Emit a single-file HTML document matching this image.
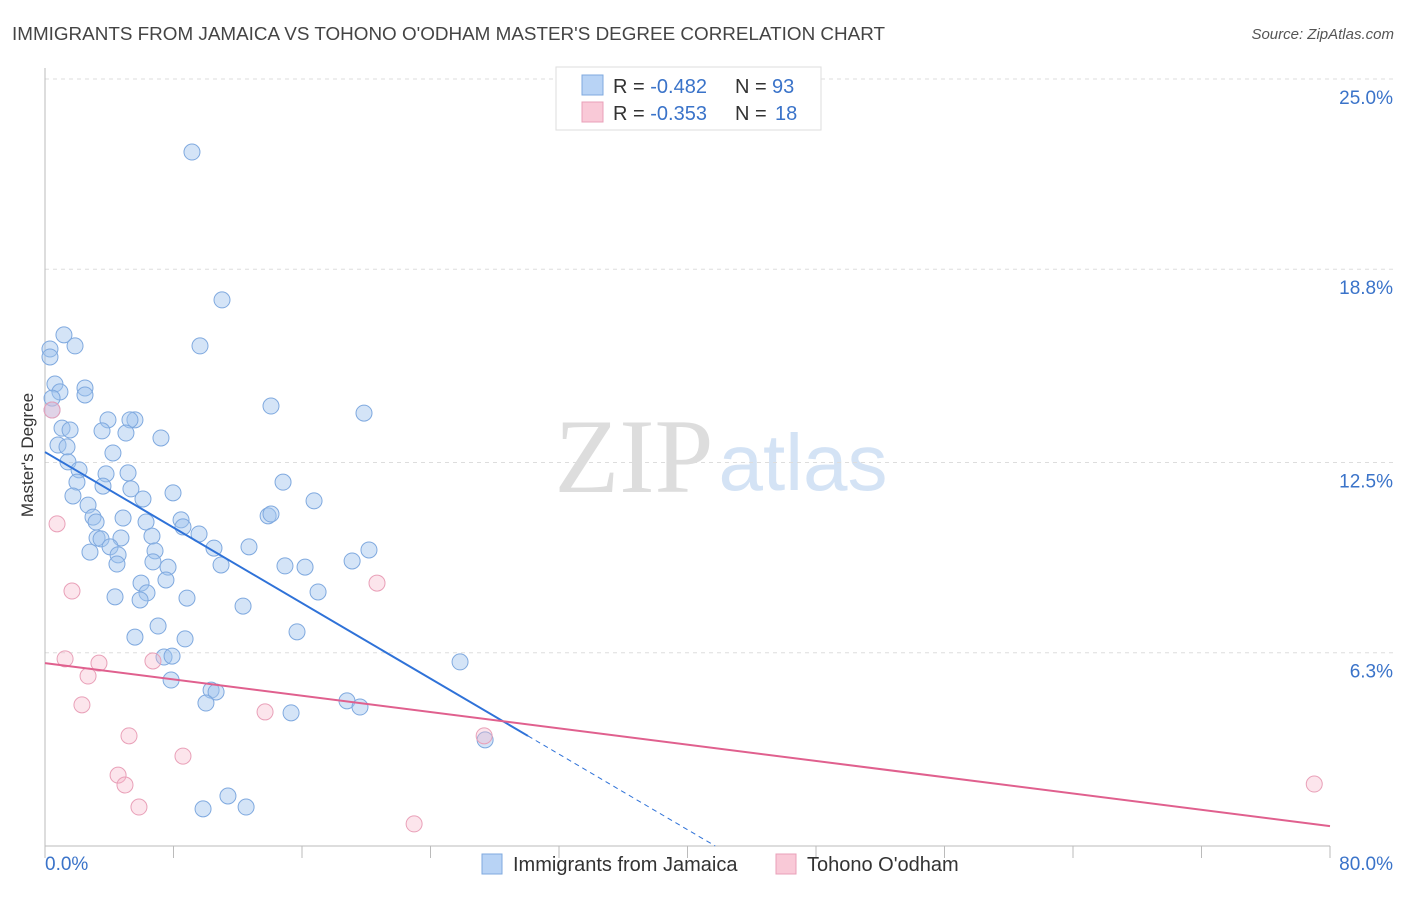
<!DOCTYPE html>
<html><head><meta charset="utf-8"><style>
body{margin:0;background:#fff;font-family:"Liberation Sans",sans-serif;}
svg text{font-family:"Liberation Sans",sans-serif;}
</style></head><body>
<svg id="chart" width="1406" height="892" xmlns="http://www.w3.org/2000/svg">
<text x="12" y="40" font-size="18" fill="#444" textLength="873" lengthAdjust="spacingAndGlyphs">IMMIGRANTS FROM JAMAICA VS TOHONO O'ODHAM MASTER'S DEGREE CORRELATION CHART</text>
<text x="1394" y="39" font-size="15" fill="#555" font-style="italic" text-anchor="end">Source: ZipAtlas.com</text>
<g>
<text x="634" y="492" font-size="106" fill="#ddd" text-anchor="middle" style="font-family:'Liberation Serif',serif">ZIP</text>
<text x="803" y="490" font-size="80" fill="#d4e3f5" text-anchor="middle">atlas</text>
</g>
<g id="grid"></g>
<g id="axes"></g>
<g id="marks"></g>
<text x="33" y="455" font-size="17" fill="#333" text-anchor="middle" transform="rotate(-90 33 455)">Master's Degree</text>
<g>
<rect x="556" y="67" width="265" height="63" fill="#fff" stroke="#ddd"/>
<rect x="582" y="75" width="21" height="20" fill="#b8d3f5" stroke="#7fa9df"/>
<rect x="582" y="102" width="21" height="20" fill="#f9c9d7" stroke="#e9a0b8"/>
<text x="613" y="93" font-size="20" fill="#333">R = <tspan fill="#3a73c9">-0.482</tspan></text>
<text x="735" y="93" font-size="20" fill="#333">N =</text>
<text x="772" y="93" font-size="20" fill="#3a73c9">93</text>
<text x="613" y="120" font-size="20" fill="#333">R = <tspan fill="#3a73c9">-0.353</tspan></text>
<text x="735" y="120" font-size="20" fill="#333">N =</text>
<text x="775" y="120" font-size="20" fill="#3a73c9">18</text>
</g>
<g>
<rect x="482" y="854" width="20" height="20" fill="#b8d3f5" stroke="#7fa9df"/>
<text x="513" y="871" font-size="20" fill="#333">Immigrants from Jamaica</text>
<rect x="776" y="854" width="20" height="20" fill="#f9c9d7" stroke="#e9a0b8"/>
<text x="807" y="871" font-size="20" fill="#333">Tohono O'odham</text>
</g>
</svg>
<script>
const yTicks=[25.0,18.8,12.5,6.3];
const yTickLabels=["25.0%","18.8%","12.5%","6.3%"];
const xTicks=[0,8,16,24,32,40,48,56,64,72,80];
const xTickLabels=["0.0%","80.0%"];
const blueX=[9.15,11.02,9.65,1.18,1.87,0.31,0.31,0.62,2.49,0.93,2.49,0.44,0.44,14.07,19.86,3.92,5.60,5.29,1.06,1.56,3.55,5.04,7.22,0.81,1.37,1.43,4.23,2.12,5.17,3.80,1.99,3.61,5.35,14.82,1.74,6.10,7.97,16.75,2.68,2.99,3.18,4.86,6.29,8.47,8.59,9.59,13.89,14.07,3.24,3.49,4.73,6.66,4.05,2.80,4.55,6.85,10.52,12.70,20.17,4.48,6.72,7.66,10.96,14.94,16.19,19.12,5.98,7.53,4.36,6.35,5.92,8.84,17.00,12.33,7.04,5.60,8.72,15.69,7.41,7.91,25.84,7.85,10.34,10.65,10.02,18.80,19.61,15.32,27.40,11.39,9.84,12.52];
const blueY=[22.62,17.80,16.30,16.66,16.30,16.20,15.94,15.06,14.93,14.80,14.70,14.60,14.21,14.34,14.11,13.89,13.89,13.89,13.62,13.56,13.53,13.46,13.30,13.07,13.01,12.52,12.81,12.26,12.16,12.13,11.86,11.73,11.64,11.86,11.41,11.31,11.51,11.25,11.11,10.72,10.56,10.69,10.56,10.63,10.40,10.17,10.76,10.82,10.04,10.01,10.04,10.10,9.75,9.58,9.49,9.62,9.71,9.75,9.65,9.19,9.26,9.09,9.16,9.13,9.09,9.29,8.57,8.67,8.12,8.25,8.02,8.08,8.28,7.82,7.17,6.81,6.75,6.98,6.16,6.19,6.00,5.41,5.08,5.02,4.66,4.73,4.53,4.34,3.46,1.63,1.21,1.27];
const pinkX=[0.44,0.75,1.68,1.25,3.36,6.72,2.68,2.30,20.67,13.70,5.23,8.59,4.55,4.98,5.85,22.98,27.34,79.02];
const pinkY=[14.21,10.50,8.31,6.10,5.96,6.03,5.54,4.60,8.57,4.37,3.59,2.93,2.31,1.99,1.27,0.72,3.59,2.02];
const blueTrend=[12.84,-0.3077];
const blueSolidEnd=30.07;
const pinkTrend=[5.96,-0.0664];

const X0=45,X1=1330,Y0=846,Ytop=79;
const sx=v=>X0+(v/80)*(X1-X0);
const sy=v=>Y0-(v/25)*(Y0-Ytop);
const NS="http://www.w3.org/2000/svg";
function mk(parent,tag,attrs){const e=document.createElementNS(NS,tag);for(const k in attrs)e.setAttribute(k,attrs[k]);document.getElementById(parent).appendChild(e);return e;}

yTicks.forEach((t,i)=>{
  const g=mk('grid','line',{x1:X0,x2:1393,y1:sy(t),y2:sy(t),stroke:'#ddd','stroke-dasharray':'4,4'});
  
  
  const l=mk('axes','text',{x:1393,y:sy(t)+25,'font-size':19,fill:'#3a73c9','text-anchor':'end'});
  l.textContent=yTickLabels[i];
  
  
});
const ya=mk('axes','line',{x1:X0,x2:X0,y1:68,y2:Y0,stroke:'#bbb'});


const xa=mk('axes','line',{x1:X0,x2:X1,y1:Y0,y2:Y0,stroke:'#bbb'});


xTicks.forEach(t=>{
  const k=mk('axes','line',{x1:sx(t),x2:sx(t),y1:Y0,y2:Y0+12,stroke:'#bbb'});
  
  
});
const xl0=mk('axes','text',{x:X0,y:870,'font-size':19,fill:'#3a73c9','text-anchor':'start'});
xl0.textContent=xTickLabels[0];


const xl1=mk('axes','text',{x:1393,y:870,'font-size':19,fill:'#3a73c9','text-anchor':'end'});
xl1.textContent=xTickLabels[1];



blueX.forEach((x,i)=>{
  const c=mk('marks','circle',{cx:sx(x),cy:sy(blueY[i]),r:8,fill:'rgba(160,195,238,0.45)',stroke:'#7fa9df','stroke-width':1});
  
  
});
pinkX.forEach((x,i)=>{
  const c=mk('marks','circle',{cx:sx(x),cy:sy(pinkY[i]),r:8,fill:'rgba(245,180,200,0.35)',stroke:'#e9a0b8','stroke-width':1});
  
  
});
const bz=-blueTrend[0]/blueTrend[1];
const bl=mk('marks','line',{x1:sx(0),y1:sy(blueTrend[0]),x2:sx(blueSolidEnd),y2:sy(blueTrend[0]+blueTrend[1]*blueSolidEnd),stroke:'#2f72d8','stroke-width':2});


const bd=mk('marks','line',{x1:sx(blueSolidEnd),y1:sy(blueTrend[0]+blueTrend[1]*blueSolidEnd),x2:sx(bz),y2:sy(0),stroke:'#2f72d8','stroke-width':1,'stroke-dasharray':'5,4'});


const pl=mk('marks','line',{x1:sx(0),y1:sy(pinkTrend[0]),x2:sx(80),y2:sy(pinkTrend[0]+pinkTrend[1]*80),stroke:'#e0608e','stroke-width':2});


</script>
</body></html>
